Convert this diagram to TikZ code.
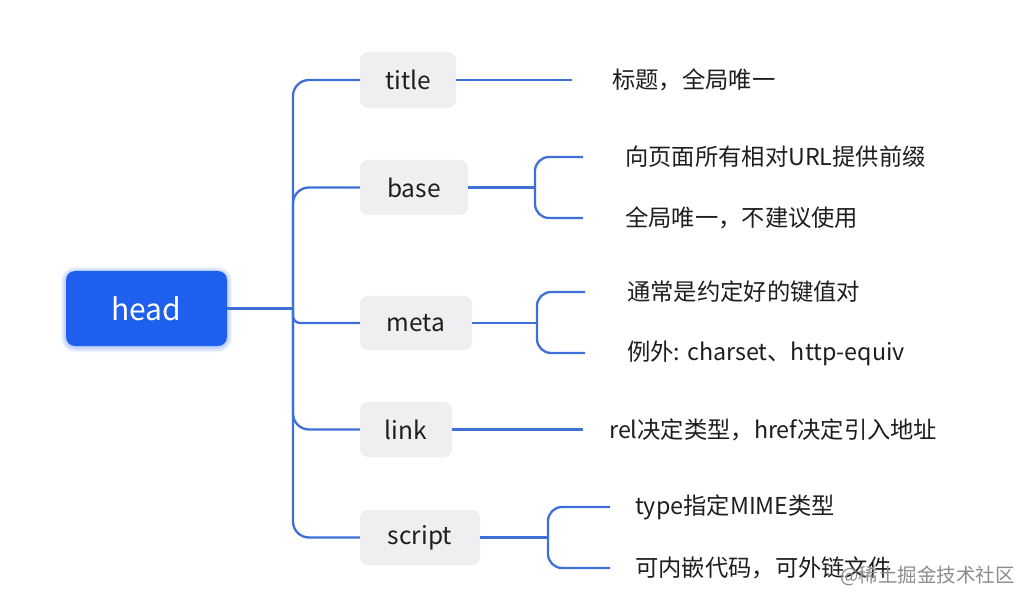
\documentclass[tikz,border=0pt]{standalone}
\usepackage{fontspec}
\setmainfont{Noto Sans CJK SC}
\definecolor{linec}{HTML}{3F6FD8}
\definecolor{boxg}{HTML}{EFEFF1}
\definecolor{headb}{HTML}{1F5FEE}
\definecolor{txt}{HTML}{1E1E1E}
\tikzset{
  conn/.style={draw=linec, line width=2.3pt},
  child/.style={fill=boxg, rounded corners=8pt, inner sep=0pt, text=txt, font=\fontsize{24.5}{28}\selectfont},
  leaf/.style={anchor=west, inner sep=0pt, text=txt, font=\fontsize{23.3}{27}\selectfont},
  glow/.style={fill=headb, fill opacity=0.06, draw=none},
}
\begin{document}
\begin{tikzpicture}[x=1pt,y=-1pt]
\useasboundingbox (0,0) rectangle (1034,604);
\fill[white] (0,0) rectangle (1034,604);
% soft glow under root
\coordinate (hsw) at (66,346);
\coordinate (hne) at (227,271);
\foreach \g in {1,2,3,4,5}{
  \fill[glow, rounded corners={9pt+\g pt}] ([xshift=-\g pt, yshift={-\g pt-1pt}]hsw) rectangle ([xshift=\g pt, yshift={\g pt-1pt}]hne);
}
% root
\node[fill=headb, rounded corners=9pt, minimum width=161pt, minimum height=75pt, text=white,
  font=\fontsize{30}{34}\selectfont] (head) at (146.5,308.5) {head};
% children
\node[child, minimum width=96pt, minimum height=56pt] (title) at (408,80) {title};
\node[child, minimum width=108pt, minimum height=55pt] (base) at (414,187.5) {base};
\node[child, minimum width=112pt, minimum height=54pt] (meta) at (416,323) {meta};
\node[child, minimum width=92pt, minimum height=55pt] (link) at (406,429.5) {link};
\node[child, minimum width=120pt, minimum height=55pt] (script) at (420,537.5) {script};
% trunk
\coordinate (tj) at (293,308.5);
\draw[conn] (head.east) -- (tj);
\draw[conn, rounded corners=16pt] (tj) |- (title.west);
\draw[conn, rounded corners=16pt] (tj) |- (base.west);
\draw[conn, rounded corners=7pt] (tj) |- (meta.west);
\draw[conn, rounded corners=16pt] (tj) |- (link.west);
\draw[conn, rounded corners=16pt] (tj) |- (script.west);
% leaves
\node[leaf] (t1) at (612,80) {标题，全局唯一};
\coordinate (t1e) at (572,80);
\draw[conn] (title.east) -- (t1e);

\node[leaf] (ba) at (625,157) {向页面所有相对URL提供前缀};
\node[leaf] (bb) at (625,218) {全局唯一，不建议使用};
\coordinate (bae) at (583,157);
\coordinate (bbe) at (583,218);
\coordinate (bj) at (535,187.5);
\draw[conn] (base.east) -- (bj);
\draw[conn, rounded corners=14pt] (bae) -| (bj) |- (bbe);

\node[leaf] (ma) at (627,292) {通常是约定好的键值对};
\node[leaf] (mb) at (627,353) {例外: charset、http-equiv};
\coordinate (mae) at (585,292);
\coordinate (mbe) at (585,353);
\coordinate (mj) at (537,323);
\draw[conn] (meta.east) -- (mj);
\draw[conn, rounded corners=14pt] (mae) -| (mj) |- (mbe);

\node[leaf] (l1) at (609,430) {rel决定类型，href决定引入地址};
\coordinate (l1e) at (583,429.5);
\draw[conn] (link.east) -- (l1e);

\node[leaf] (sa) at (635,507) {type指定MIME类型};
\node[leaf] (sb) at (635,568) {可内嵌代码，可外链文件};
\coordinate (sae) at (610,507);
\coordinate (sbe) at (610,568);
\coordinate (sj) at (548,537.5);
\draw[conn] (script.east) -- (sj);
\draw[conn, rounded corners=14pt] (sae) -| (sj) |- (sbe);

% watermark
\node[anchor=east, inner sep=0pt, text=black!45, font=\fontsize{19.5}{23}\selectfont] (wm) at (1015,576) {@稀土掘金技术社区};
\end{tikzpicture}
\end{document}
